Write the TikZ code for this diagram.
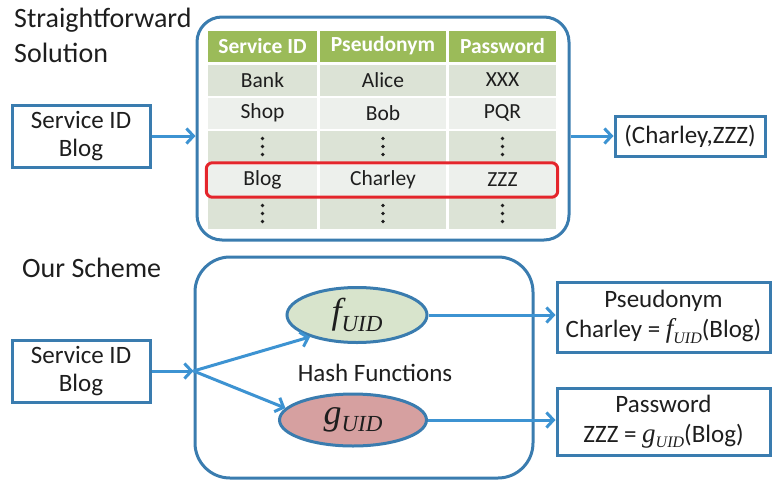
\documentclass[tikz,border=0pt]{standalone}
\usepackage{fontspec}
\setmainfont{Carlito}
\newfontfamily\hashfont{Liberation Serif}
\usetikzlibrary{arrows.meta,shapes.geometric,fit}

\definecolor{boxblue}{HTML}{3A7CAF}
\definecolor{arrowblue}{HTML}{3D93D2}
\definecolor{headgreen}{HTML}{9BBB59}
\definecolor{rowdark}{HTML}{DCE3D6}
\definecolor{rowlight}{HTML}{EDF0EC}
\definecolor{fgreen}{HTML}{D8E4CC}
\definecolor{gred}{HTML}{D6A0A0}
\definecolor{hired}{HTML}{E4252B}
\definecolor{ink}{HTML}{1E1E1E}

% hash function name: letter, size, subscript size
\newcommand{\uidfn}[3]{{\hashfont\itshape\fontsize{#2}{#2}\selectfont #1\raisebox{-0.2em}{\fontsize{#3}{#3}\selectfont UID}}}
% column dots in a cell
\newcommand{\coldots}[1]{\foreach \dy in {-8,0,8} \fill[ink] ([yshift=\dy pt]#1) circle (1.9pt);}

\tikzset{
  heading/.style={anchor=base west, inner sep=0pt, text=ink, font=\fontsize{28}{34}\selectfont},
  idbox/.style={draw=boxblue, line width=3pt, minimum width=138pt, minimum height=62pt,
    inner sep=0pt, align=center, text=ink, font=\fontsize{25}{28}\selectfont},
  cell/.style={minimum height=31pt, inner sep=0pt, text=ink, font=\fontsize{21.5}{24}\selectfont},
  headcell/.style={cell, fill=headgreen, text=white, font=\fontsize{21.5}{24}\selectfont\bfseries},
  panel/.style={draw=boxblue, line width=3pt, inner sep=0pt},
  hashfun/.style={ellipse, draw=boxblue, line width=3pt, inner sep=0pt, text=ink},
  flow/.style={draw=arrowblue, line width=3pt, -{Straight Barb[length=7pt,width=15pt]}}
}

\begin{document}
\begin{tikzpicture}[x=1pt, y=-1pt]
  \useasboundingbox (0,0) rectangle (772,480);

  % Straightforward solution
  \node[heading] (sf1) at (14,27) {Straightforward};
  \node[heading] (sf2) at (14,62) {Solution};
  \node[panel, rounded corners=25pt, minimum width=372pt, minimum height=223pt]
    (tablebox) at (383,128.5) {};

  % table header
  \node[headcell, minimum width=109pt] (h1) at (262.5,46) {Service ID};
  \node[headcell, minimum width=126pt] (h2) at (383,46) {Pseudonym};
  \node[headcell, minimum width=107pt] (h3) at (502.5,46) {Password};

  % table rows
  \node[cell, fill=rowdark, minimum width=109pt] (r1a) at (262.5,80) {Bank};
  \node[cell, fill=rowdark, minimum width=126pt] (r1b) at (383,80) {Alice};
  \node[cell, fill=rowdark, minimum width=107pt] (r1c) at (502.5,80) {XXX};
  \node[cell, fill=rowlight, minimum width=109pt] (r2a) at (262.5,113) {Shop};
  \node[cell, fill=rowlight, minimum width=126pt] (r2b) at (383,113) {Bob};
  \node[cell, fill=rowlight, minimum width=107pt] (r2c) at (502.5,113) {PQR};
  \node[cell, fill=rowdark, minimum width=109pt] (r3a) at (262.5,146.5) {};
  \node[cell, fill=rowdark, minimum width=126pt] (r3b) at (383,146.5) {};
  \node[cell, fill=rowdark, minimum width=107pt] (r3c) at (502.5,146.5) {};
  \node[cell, fill=rowlight, minimum width=109pt] (r4a) at (262.5,180) {Blog};
  \node[cell, fill=rowlight, minimum width=126pt] (r4b) at (383,180) {Charley};
  \node[cell, fill=rowlight, minimum width=107pt] (r4c) at (502.5,180) {ZZZ};
  \node[cell, fill=rowdark, minimum width=109pt] (r5a) at (262.5,213.5) {};
  \node[cell, fill=rowdark, minimum width=126pt] (r5b) at (383,213.5) {};
  \node[cell, fill=rowdark, minimum width=107pt] (r5c) at (502.5,213.5) {};
  \coldots{r3a} \coldots{r3b} \coldots{r3c}
  \coldots{r5a} \coldots{r5b} \coldots{r5c}

  % selected row
  \node[draw=hired, line width=3pt, rounded corners=6pt, inner sep=1.5pt, fit=(r4a)(r4c)] (pick) {};

  % lookup input and result
  \node[idbox] (sid1) at (81,136) {Service ID\\Blog};
  \node[idbox, minimum width=150pt, minimum height=40pt] (out) at (690,136) {(Charley,ZZZ)};
  \draw[flow] (sid1.east) -- (sid1.east -| tablebox.west);
  \draw[flow] (tablebox.east |- out.west) -- (out.west);

  % Our scheme
  \node[heading] (os) at (22,277) {Our Scheme};
  \node[panel, rounded corners=35pt, minimum width=338pt, minimum height=221pt]
    (schemebox) at (364,367.5) {};
  \node[hashfun, fill=fgreen, minimum width=140pt, minimum height=55pt] (fhash) at (357,315) {\uidfn{f}{36}{23}};
  \node[hashfun, fill=gred, minimum width=147pt, minimum height=52pt] (ghash) at (353,420) {\uidfn{g}{36}{23}};
  \node[cell, font=\fontsize{25}{28}\selectfont] (hf) at (375,373) {Hash Functions};

  % scheme input and results
  \node[idbox] (sid2) at (81,371) {Service ID\\Blog};
  \node[idbox, minimum width=213pt, minimum height=70pt, font=\fontsize{25}{30}\selectfont]
    (pseud) at (663.5,317) {Pseudonym\\Charley = \uidfn{f}{27}{16}(Blog)};
  \node[idbox, minimum width=213pt, minimum height=67pt, font=\fontsize{25}{30}\selectfont]
    (pass) at (663.5,421.5) {Password\\ZZZ = \uidfn{g}{27}{16}(Blog)};

  \coordinate (split) at (sid2.east -| schemebox.west);
  \draw[flow] (sid2.east) -- (split);
  \draw[flow] (split) -- (fhash.205);
  \draw[flow] (split) -- (ghash.170);
  \draw[flow] (fhash.east) -- (fhash.east -| pseud.west);
  \draw[flow] (ghash.east) -- (ghash.east -| pass.west);
\end{tikzpicture}
\end{document}
